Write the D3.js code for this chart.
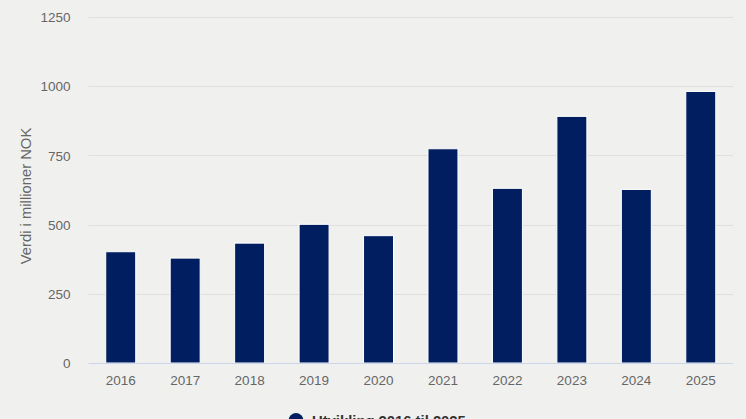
<!DOCTYPE html>
<html>
<head>
<meta charset="utf-8">
<script src="https://cdn.jsdelivr.net/npm/d3@7"></script>
<style>
  html, body { margin: 0; padding: 0; background: #f0f1ef; }
  svg { display: block; font-family: "Liberation Sans", Arial, sans-serif; }
</style>
</head>
<body>
<svg id="chart" width="746" height="419"></svg>
<script>
const categories = ["2016","2017","2018","2019","2020","2021","2022","2023","2024","2025"];
const values = [402, 379, 433, 501, 460, 774, 631, 891, 627, 981];
const yTicks = [0, 250, 500, 750, 1000, 1250];
const seriesName = "Utvikling 2016 til 2025";
const yTitle = "Verdi i millioner NOK";

const W = 746, H = 419;
const m = { left: 88.5, right: 13, top: 17, bottom: 56 };
const svg = d3.select("#chart");
svg.append("rect").attr("width", W).attr("height", H).attr("fill", "#f0f1ef");

const x = d3.scaleBand().domain(categories).range([m.left, W - m.right]).paddingInner(0.535).paddingOuter(0.2675);
const y = d3.scaleLinear().domain([0, 1250]).range([H - m.bottom, m.top]);

// gridlines
svg.append("g").selectAll("line").data(yTicks.filter(d => d > 0)).join("line")
  .attr("x1", m.left).attr("x2", W - m.right)
  .attr("y1", d => Math.round(y(d)) + 0.5).attr("y2", d => Math.round(y(d)) + 0.5)
  .attr("stroke", "#dfe0de").attr("stroke-width", 1);

// y labels
const yAxis = svg.append("g").attr("transform", `translate(${m.left},0)`)
  .call(d3.axisLeft(y).tickValues(yTicks).tickSize(0).tickPadding(18).tickFormat(d3.format("d")));
yAxis.select(".domain").remove();
yAxis.selectAll("text").attr("fill", "#666666").style("font-size", "13.5px")
  .attr("dy", "0.35em");

// bars
svg.append("g").selectAll("rect").data(values).join("rect")
  .attr("x", (d, i) => x(categories[i]))
  .attr("y", d => y(d))
  .attr("width", x.bandwidth())
  .attr("height", d => y(0) - y(d))
  .attr("fill", "#011e60")
  .attr("stroke", "#ffffff").attr("stroke-width", 1);

// x axis
const xAxis = svg.append("g").attr("transform", `translate(0,${y(0)})`)
  .call(d3.axisBottom(x).tickSize(0).tickPadding(12));
xAxis.select(".domain").attr("stroke", "#ccd6eb").attr("d", `M${m.left},0.5H${W - m.right}`);
xAxis.selectAll("text").attr("fill", "#666666").style("font-size", "13.5px");

// y title
svg.append("text")
  .attr("transform", `translate(31,${(y(0) + y(1250)) / 2 + 6}) rotate(-90)`)
  .attr("text-anchor", "middle")
  .attr("fill", "#666666").style("font-size", "14.8px")
  .text(yTitle);

// legend
const lg = svg.append("g");
lg.append("circle").attr("cx", 296).attr("cy", 420.5).attr("r", 7.4).attr("fill", "#011e60");
lg.append("text").attr("x", 312).attr("y", 426).attr("fill", "#333333")
  .style("font-size", "14.8px").style("font-weight", "bold").text(seriesName);
</script>
</body>
</html>
